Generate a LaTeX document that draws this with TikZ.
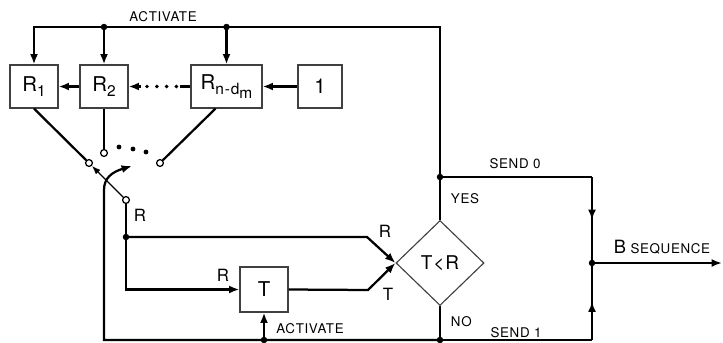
\documentclass[tikz,border=0pt]{standalone}
\usepackage{fontspec}
\setmainfont{TeX Gyre Heros}[LetterSpace=5]
\usetikzlibrary{arrows.meta,positioning,shapes.geometric,calc,decorations.markings}
\newcommand{\lowsub}[1]{\raisebox{-0.45ex}{\fontsize{11}{11}\selectfont #1}}

\begin{document}
\begin{tikzpicture}[x=0.025cm, y=-0.025cm, font=\fontsize{9.5}{11}\selectfont,
  >={Latex[length=2.6mm,width=2mm]},
  wire/.style={line width=1.6pt},
  box/.style={draw=black!75,line width=0.8pt,minimum width=1.2cm,minimum height=1.075cm,inner sep=0pt,font=\fontsize{14.5}{16}\selectfont},
  contact/.style={circle,draw,line width=0.9pt,fill=white,inner sep=0pt,minimum size=0.17cm},
  lbl/.style={font=\fontsize{12}{13}\selectfont},
  midarrow/.style={postaction={decorate},decoration={markings,mark=at position 0.5 with {\arrow{Latex[length=2.6mm,width=2mm]}}}}]
  \useasboundingbox (0,0) rectangle (723,342);
  \node[box] (r1) at (34,86.5) {R\lowsub{1}};
  \node[box] (r2) at (104,86.5) {R\lowsub{2}};
  \node[box, minimum width=1.775cm] (rn) at (226.5,86.5) {R\lowsub{n-d\lowsub{m}}};
  \node[box, minimum width=1.1cm] (one) at (320,86.5) {1};
  \node[box, minimum height=1.125cm] (t) at (264,289.5) {T};
  \node[draw=black!75, line width=0.8pt, diamond, minimum width=2.2cm, minimum height=2.125cm, inner sep=0pt, font=\fontsize{13.5}{15}\selectfont] (cmp) at (440,263) {T<R};
  \node[contact] (c1) at (89,163) {};
  \node[contact] (c2) at (104,153) {};
  \node[contact] (c3) at (160,163) {};
  \node[contact] (cr) at (126,200) {};
  \coordinate (top) at (440,27);
  \coordinate (yes) at (440,177);
  \coordinate (no) at (440,340);
  \coordinate (s0) at (592,177);
  \coordinate (s1) at (592,340);
  \coordinate (bj) at (592,263);
  \coordinate (out) at (722,263);
  \coordinate (rj) at (126,237);
  \coordinate (rk) at (367,237);
  \coordinate (tk) at (368,290);
  \coordinate (bl) at (104,340);
  \coordinate (sw) at (132,166);
  \coordinate (ta) at (t.south |- no);
  \draw[wire,->] (yes) -- (top) -| (r1.north);
  \draw[wire,->] (r2.north |- top) -- (r2.north);
  \draw[wire,->] (rn.north |- top) -- (rn.north);
  \draw[wire,->] (r2) -- (r1);
  \draw[wire] (rn.west) -- ++(-10,0) coordinate (da);
  \draw[wire,->] ($(r2.east)+(12,0)$) coordinate (db) -- (r2.east);
  \draw[line width=2.8pt, line cap=round, dash pattern=on 0pt off 0.245cm] ($(da)+(-4,0)$) -- (db);
  \draw[wire,->] (one) -- (rn);
  \draw[wire] (r1.south) -- (c1);
  \draw[wire] (r2.south) -- (c2);
  \draw[wire] ($(rn.south)+(-11,0)$) -- (c3);
  \foreach \px/\py in {119/147,133/149,146/152}
    \fill (\px,\py) circle (1.7pt);
  \draw[line width=1pt,-{Latex[length=2.2mm,width=1.6mm]}] (cr) -- (c1);
  \draw[wire,->] (no) -- (bl) -- (104,190) .. controls (104,178) and (112,172) .. (sw);
  \draw[wire] (cr) -- (rj);
  \draw[wire,->] (rj) -- (rk) -- (cmp.west);
  \draw[wire,->] (rj) |- (t.west);
  \draw[wire,->] (t.east) -- (tk) -- (cmp.west);
  \draw[wire] (cmp.north) -- (yes);
  \draw[wire] (cmp.south) -- (no);
  \draw[wire,->] (ta) -- (t.south);
  \draw[wire] (yes) -- (s0);
  \draw[wire,midarrow] (s0) -- (bj);
  \draw[wire] (no) -- (s1);
  \draw[wire,midarrow] (s1) -- (bj);
  \draw[wire,->] (bj) -- (out);
  \foreach \j in {yes,no,bj,rj,ta}
    \fill (\j) circle (2.3pt);
  \fill (r2.north |- top) circle (2.3pt);
  \fill (rn.north |- top) circle (2.3pt);
  \node (act) at (163,17) {ACTIVATE};
  \node (send0) at (515,164) {SEND 0};
  \node[anchor=west] (ylab) at (446,199) {YES};
  \node[anchor=west] (nlab) at (446,322) {NO};
  \node (send1) at (516,333) {SEND 1};
  \node (bseq) at (662,247) {{\fontsize{13}{14}\selectfont B} SEQUENCE};
  \node (act2) at (310,329) {ACTIVATE};
  \node[lbl] (rsw) at (140,215) {R};
  \node[lbl] (rt) at (223,275) {R};
  \node[lbl] (rc) at (385,231) {R};
  \node[lbl] (tc) at (388,294) {T};
\end{tikzpicture}
\end{document}
